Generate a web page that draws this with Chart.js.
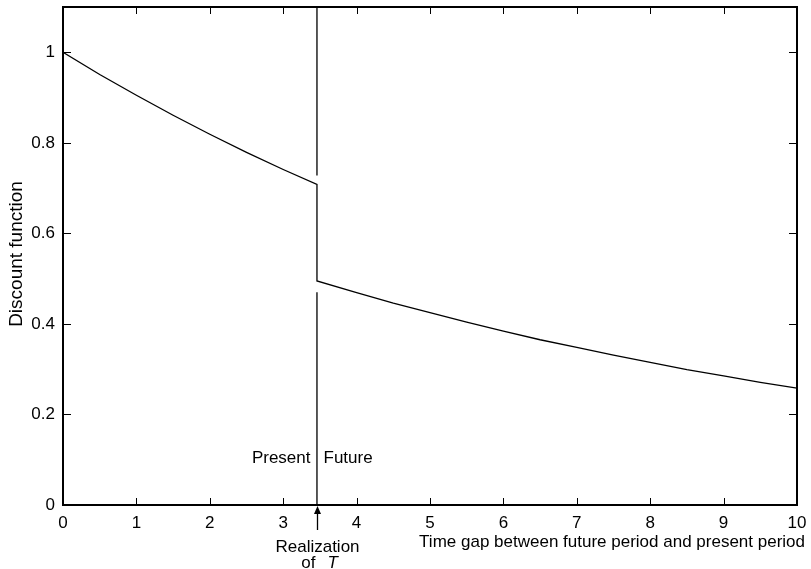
<!DOCTYPE html>
<html>
<head>
<meta charset="utf-8">
<script src="https://cdn.jsdelivr.net/npm/chart.js@4"></script>
<style>
  html, body { margin: 0; padding: 0; background: #fff; }
  #wrap { width: 811px; height: 569px; }
</style>
</head>
<body>
<div id="wrap"><canvas id="c1" width="811" height="569"></canvas></div>
<script>
// values
let presentT = [0, 0.5, 1, 1.5, 2, 2.5, 3, 3.46];
let presentD = [1, 0.951, 0.905, 0.861, 0.819, 0.779, 0.741, 0.708];
let futureT = [3.46, 4, 4.5, 5, 5.5, 6, 6.5, 7, 7.5, 8, 8.5, 9, 9.5, 10];
let futureD = [0.495, 0.469, 0.446, 0.425, 0.404, 0.384, 0.365, 0.348, 0.331, 0.315, 0.299, 0.285, 0.271, 0.258];
let realizationT = 3.46;
let xTicks = [0, 1, 2, 3, 4, 5, 6, 7, 8, 9, 10];
let yTicks = [0, 0.2, 0.4, 0.6, 0.8, 1];

let curve = presentT.map((t, i) => ({ x: t, y: presentD[i] }))
    .concat(futureT.map((t, i) => ({ x: t, y: futureD[i] })));

let font = '"Liberation Sans", Arial, Helvetica, sans-serif';

// frame, inward ticks on all sides, and the annotations
let framePlugin = {
    id: 'frame',
    afterDraw(chart) {
        let ctx = chart.ctx;
        let a = chart.chartArea;
        let xs = chart.scales.x, ys = chart.scales.y;
        ctx.save();
        ctx.strokeStyle = '#000';
        ctx.lineWidth = 1;
        xTicks.forEach(v => {
            let px = Math.round(xs.getPixelForValue(v)) + 0.5;
            ctx.beginPath();
            ctx.moveTo(px, a.bottom); ctx.lineTo(px, a.bottom - 7);
            ctx.moveTo(px, a.top); ctx.lineTo(px, a.top + 7);
            ctx.stroke();
        });
        yTicks.forEach(v => {
            let py = Math.round(ys.getPixelForValue(v)) + 0.5;
            ctx.beginPath();
            ctx.moveTo(a.left, py); ctx.lineTo(a.left + 8, py);
            ctx.moveTo(a.right, py); ctx.lineTo(a.right - 8, py);
            ctx.stroke();
        });
        ctx.lineWidth = 2;
        ctx.strokeRect(a.left, a.top, a.right - a.left, a.bottom - a.top);

        // arrow below the axis
        let rx = Math.round(xs.getPixelForValue(realizationT)) + 0.5;
        ctx.lineWidth = 1.3;
        ctx.beginPath();
        ctx.moveTo(rx, a.bottom + 25); ctx.lineTo(rx, a.bottom + 6);
        ctx.stroke();
        ctx.fillStyle = '#000';
        ctx.beginPath();
        ctx.moveTo(rx, a.bottom + 1);
        ctx.lineTo(rx - 3.5, a.bottom + 9);
        ctx.lineTo(rx + 3.5, a.bottom + 9);
        ctx.closePath();
        ctx.fill();

        ctx.font = '17px ' + font;
        ctx.textBaseline = 'alphabetic';
        let ty = ys.getPixelForValue(0.092);
        ctx.textAlign = 'right';
        ctx.fillText('Present', rx - 7, ty);
        ctx.textAlign = 'left';
        ctx.fillText('Future', rx + 6, ty);

        ctx.textAlign = 'center';
        ctx.fillText('Realization', rx, a.bottom + 47);
        ctx.textAlign = 'right';
        ctx.fillText('of', rx - 2, a.bottom + 63);
        ctx.textAlign = 'left';
        ctx.font = 'italic 17px ' + font;
        ctx.fillText('T', rx + 10, a.bottom + 63);

        ctx.font = '17px ' + font;
        ctx.textAlign = 'right';
        ctx.fillText('Time gap between future period and present period', a.right + 8, a.bottom + 42);

        ctx.translate(22, 254);
        ctx.rotate(-Math.PI / 2);
        ctx.textAlign = 'center';
        ctx.font = '19px ' + font;
        ctx.fillText('Discount function', 0, 0);
        ctx.restore();
    }
};

let ctx1 = document.getElementById('c1').getContext('2d');

new Chart(ctx1, {
    type: 'line',
    data: {
        datasets: [{
            label: 'Discount function',
            data: curve,
            borderColor: '#000',
            borderWidth: 1.3,
            pointRadius: 0,
            tension: 0,
            fill: false
        }, {
            label: 'T upper',
            data: [{ x: realizationT, y: 1.1 }, { x: realizationT, y: 0.728 }],
            borderColor: '#000',
            borderWidth: 1.3,
            pointRadius: 0,
            fill: false
        }, {
            label: 'T lower',
            data: [{ x: realizationT, y: 0.47 }, { x: realizationT, y: 0 }],
            borderColor: '#000',
            borderWidth: 1.3,
            pointRadius: 0,
            fill: false
        }]
    },
    options: {
        responsive: false,
        animation: false,
        layout: { padding: { top: 7, right: 14, left: 0, bottom: 0 } },
        plugins: { legend: { display: false }, tooltip: { enabled: false } },
        scales: {
            x: {
                type: 'linear',
                min: 0,
                max: 10,
                afterFit(s) { s.height = 64; s.paddingLeft = 0; s.paddingRight = 0; },
                afterBuildTicks(s) { s.ticks = xTicks.map(v => ({ value: v })); },
                grid: { display: false, drawTicks: false },
                border: { display: false },
                ticks: { padding: 8, color: '#000', font: { family: font, size: 17 }, maxRotation: 0 }
            },
            y: {
                min: 0,
                max: 1.1,
                afterFit(s) { s.width = 63; s.paddingTop = 0; s.paddingBottom = 0; },
                afterBuildTicks(s) { s.ticks = yTicks.map(v => ({ value: v })); },
                grid: { display: false, drawTicks: false },
                border: { display: false },
                ticks: {
                    padding: 8, color: '#000', font: { family: font, size: 17 },
                    callback: v => String(Math.round(v * 10) / 10)
                }
            }
        }
    },
    plugins: [framePlugin]
});
</script>
</body>
</html>
